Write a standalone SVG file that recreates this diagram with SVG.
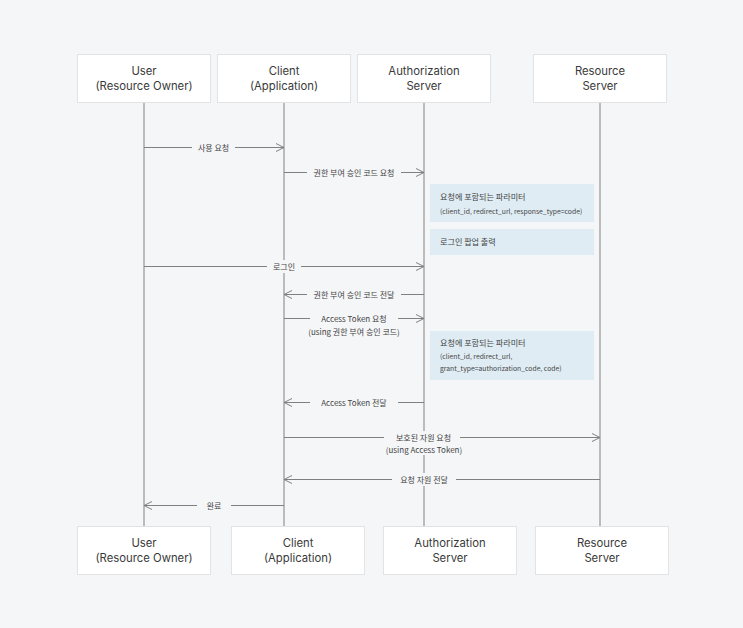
<svg xmlns="http://www.w3.org/2000/svg" width="743" height="628" viewBox="0 0 743 628">
<style>
text{font-family:"Noto Sans CJK KR","Noto Sans",sans-serif;fill:#333}
.node rect{fill:#fff;stroke:#e2e3e5;stroke-width:1}
.nt{font-family:Inter,"Noto Sans CJK KR",sans-serif;font-size:11.3px;text-anchor:middle;fill:#3a3a3a}
.life{stroke:#808080;stroke-width:1}
.msg{stroke:#808080;stroke-width:1;fill:none}
.lbl{font-size:8px;text-anchor:middle;fill:#444}
.bg{fill:#f5f6f8}
.note rect{fill:#dfecf4}
.nh{font-size:8.1px;fill:#444}
.np{font-size:6.8px;fill:#444}
</style>
<defs>
<marker id="ah" markerUnits="userSpaceOnUse" markerWidth="10" markerHeight="10" viewBox="0 0 10 10" refX="9" refY="5" orient="auto">
<path d="M1,1 L9,5 L1,9" fill="none" stroke="#808080" stroke-width="1"/>
</marker>
</defs>
<rect x="0" y="0" width="743" height="628" fill="#f5f6f8"/>
<g id="lifelines">
<line class="life" x1="144" y1="102" x2="144" y2="526"/>
<line class="life" x1="284" y1="102" x2="284" y2="526"/>
<line class="life" x1="424" y1="102" x2="424" y2="526"/>
<line class="life" x1="600" y1="102" x2="600" y2="526"/>
</g>
<g id="user-top" class="node"><rect x="77.5" y="54.5" width="133" height="48"/><text class="nt" x="144" y="75">User</text><text class="nt" x="144" y="90">(Resource Owner)</text></g>
<g id="client-top" class="node"><rect x="217.5" y="54.5" width="133" height="48"/><text class="nt" x="284" y="75">Client</text><text class="nt" x="284" y="90">(Application)</text></g>
<g id="auth-top" class="node"><rect x="357.5" y="54.5" width="133" height="48"/><text class="nt" x="424" y="75">Authorization</text><text class="nt" x="424" y="90">Server</text></g>
<g id="resource-top" class="node"><rect x="533.5" y="54.5" width="133" height="48"/><text class="nt" x="600" y="75">Resource</text><text class="nt" x="600" y="90">Server</text></g>
<g id="note1" class="note"><rect x="430" y="184" width="164" height="38"/><text class="nh" x="440" y="200">요청에 포함되는 파라미터</text><text class="np" x="440" y="213.5">(client_id, redirect_url, response_type=code)</text></g>
<g id="note2" class="note"><rect x="430" y="229" width="164" height="26"/><text class="nh" x="440" y="245">로그인 팝업 출력</text></g>
<g id="note3" class="note"><rect x="430" y="331" width="164" height="49"/><text class="nh" x="440" y="346">요청에 포함되는 파라미터</text><text class="np" x="440" y="358.5">(client_id, redirect_url,</text><text class="np" x="440" y="371">grant_type=authorization_code, code)</text></g>
<g id="connectors">
<line class="msg" x1="144" y1="147.5" x2="284" y2="147.5" marker-end="url(#ah)"/>
<rect class="bg" x="192" y="141" width="43" height="13"/>
<text class="lbl" x="213.5" y="150.5">사용 요청</text>
<line class="msg" x1="284" y1="172.5" x2="424" y2="172.5" marker-end="url(#ah)"/>
<rect class="bg" x="307" y="166" width="94" height="13"/>
<text class="lbl" x="354" y="175.5">권한 부여 승인 코드 요청</text>
<line class="msg" x1="144" y1="266.5" x2="424" y2="266.5" marker-end="url(#ah)"/>
<rect class="bg" x="267" y="260" width="34" height="13"/>
<text class="lbl" x="284" y="269.5">로그인</text>
<line class="msg" x1="424" y1="294.5" x2="284" y2="294.5" marker-end="url(#ah)"/>
<rect class="bg" x="307" y="288" width="94" height="13"/>
<text class="lbl" x="354" y="297.5">권한 부여 승인 코드 전달</text>
<line class="msg" x1="284" y1="318.5" x2="424" y2="318.5" marker-end="url(#ah)"/>
<rect class="bg" x="310" y="312" width="88" height="13"/>
<text class="lbl" x="354" y="321.5">Access Token 요청</text>
<text class="lbl" x="354" y="334.5">(using 권한 부여 승인 코드)</text>
<line class="msg" x1="424" y1="402.5" x2="284" y2="402.5" marker-end="url(#ah)"/>
<rect class="bg" x="310" y="396" width="88" height="13"/>
<text class="lbl" x="354" y="405.5">Access Token 전달</text>
<line class="msg" x1="284" y1="437.5" x2="600" y2="437.5" marker-end="url(#ah)"/>
<rect class="bg" x="384" y="431" width="76" height="24"/>
<text class="lbl" x="423.5" y="440.5">보호된 자원 요청</text>
<text class="lbl" x="424" y="452.5">(using Access Token)</text>
<line class="msg" x1="600" y1="479.5" x2="284" y2="479.5" marker-end="url(#ah)"/>
<rect class="bg" x="392" y="473" width="64" height="13"/>
<text class="lbl" x="424" y="482.5">요청 자원 전달</text>
<line class="msg" x1="284" y1="505.5" x2="144" y2="505.5" marker-end="url(#ah)"/>
<rect class="bg" x="197" y="499" width="34" height="13"/>
<text class="lbl" x="214" y="508.5">완료</text>
</g>
<g id="user-bottom" class="node"><rect x="77.5" y="526.5" width="133" height="48"/><text class="nt" x="144" y="547">User</text><text class="nt" x="144" y="562">(Resource Owner)</text></g>
<g id="client-bottom" class="node"><rect x="231.5" y="526.5" width="133" height="48"/><text class="nt" x="298" y="547">Client</text><text class="nt" x="298" y="562">(Application)</text></g>
<g id="auth-bottom" class="node"><rect x="383.5" y="526.5" width="133" height="48"/><text class="nt" x="450" y="547">Authorization</text><text class="nt" x="450" y="562">Server</text></g>
<g id="resource-bottom" class="node"><rect x="535.5" y="526.5" width="133" height="48"/><text class="nt" x="602" y="547">Resource</text><text class="nt" x="602" y="562">Server</text></g>
</svg>
